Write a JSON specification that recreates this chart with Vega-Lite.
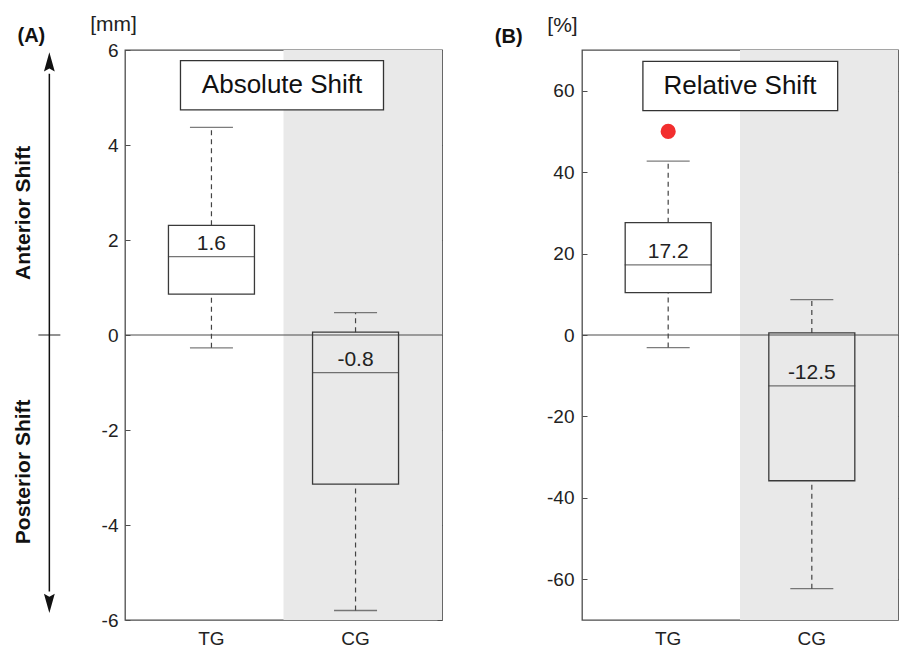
{
  "$schema": "https://vega.github.io/schema/vega-lite/v6.json",
  "autosize": {"type": "none"},
  "padding": {"left": 125, "top": 50, "right": 774, "bottom": 28},
  "bounds": "flush",
  "spacing": 140,
  "background": "white",
  "data": {"values": [{"ref": 1}]},
  "config": {
    "view": {"stroke": "#4d4d4d", "strokeWidth": 1.3},
    "font": "Liberation Sans",
    "axis": {"labelFont": "Liberation Sans", "labelFontSize": 19, "labelColor": "#222", "grid": false, "domain": false, "tickColor": "#4d4d4d", "title": null}
  },
  "datasets": {
    "abs": [
      {"group": "TG", "pos": 1, "lo": -0.27, "q1": 0.86, "med": 1.65, "q3": 2.31, "hi": 4.37, "label": "1.6"},
      {"group": "CG", "pos": 2, "lo": -5.8, "q1": -3.14, "med": -0.79, "q3": 0.06, "hi": 0.47, "label": "-0.8"}
    ],
    "rel": [
      {"group": "TG", "pos": 1, "lo": -3.1, "q1": 10.4, "med": 17.2, "q3": 27.6, "hi": 42.7, "label": "17.2"},
      {"group": "CG", "pos": 2, "lo": -62.3, "q1": -35.8, "med": -12.5, "q3": 0.5, "hi": 8.7, "label": "-12.5"}
    ],
    "relOut": [
      {"group": "TG", "pos": 1, "value": 50}
    ]
  },
  "hconcat": [
    {
      "width": 317,
      "height": 570,
      "resolve": {"axis": {"y": "independent"}},
      "layer": [
        {
          "mark": {"type": "rect", "fill": "#e9e9e9"},
          "encoding": {
            "x": {"datum": 1.5, "type": "quantitative", "scale": {"domain": [0.4, 2.6], "nice": false, "zero": false, "padding": 0}, "axis": null},
            "x2": {"datum": 2.6},
            "y": {"datum": -6, "type": "quantitative", "scale": {"domain": [-6, 6], "nice": false, "zero": false, "padding": 0},
              "axis": {"orient": "left", "values": [-6, -4, -2, 0, 2, 4, 6], "tickSize": -5, "labelPadding": 12, "labelExpr": "replace(datum.label, '−', '-')"}},
            "y2": {"datum": 6}
          }
        },
        {
          "mark": {"type": "rule", "color": "#4d4d4d", "strokeWidth": 1.2},
          "encoding": {
            "y": {"datum": 0, "type": "quantitative", "axis": {"orient": "right", "values": [-6, -4, -2, 0, 2, 4, 6], "labels": false, "tickSize": -5}}
          }
        },
        {
          "data": {"name": "abs"},
          "layer": [
            {"mark": {"type": "rule", "color": "#444", "strokeDash": [5, 4], "strokeWidth": 1.2},
              "encoding": {"x": {"field": "pos", "type": "quantitative", "axis": null}, "y": {"field": "q3", "type": "quantitative", "axis": null}, "y2": {"field": "hi"}}},
            {"mark": {"type": "rule", "color": "#444", "strokeDash": [5, 4], "strokeWidth": 1.2},
              "encoding": {"x": {"field": "pos", "type": "quantitative", "axis": null}, "y": {"field": "lo", "type": "quantitative", "axis": null}, "y2": {"field": "q1"}}},
            {"mark": {"type": "tick", "orient": "horizontal", "size": 43, "thickness": 1.3, "color": "#444"},
              "encoding": {"x": {"field": "pos", "type": "quantitative", "axis": null}, "y": {"field": "hi", "type": "quantitative", "axis": null}}},
            {"mark": {"type": "tick", "orient": "horizontal", "size": 43, "thickness": 1.3, "color": "#444"},
              "encoding": {"x": {"field": "pos", "type": "quantitative", "axis": null}, "y": {"field": "lo", "type": "quantitative", "axis": null}}},
            {"mark": {"type": "bar", "size": 86, "fill": "transparent", "stroke": "#3a3a3a", "strokeWidth": 1.3},
              "encoding": {"x": {"field": "pos", "type": "quantitative", "axis": null}, "y": {"field": "q1", "type": "quantitative", "axis": null}, "y2": {"field": "q3"}}},
            {"mark": {"type": "tick", "orient": "horizontal", "size": 87, "thickness": 1.3, "color": "#3a3a3a"},
              "encoding": {"x": {"field": "pos", "type": "quantitative", "axis": null}, "y": {"field": "med", "type": "quantitative", "axis": null}}},
            {"mark": {"type": "text", "fontSize": 21, "color": "#222", "baseline": "middle", "align": "center", "dy": -12.5},
              "encoding": {"x": {"field": "pos", "type": "quantitative", "axis": null}, "y": {"field": "med", "type": "quantitative", "axis": null}, "text": {"field": "label"}}},
            {"mark": {"type": "text", "fontSize": 19, "color": "#222", "baseline": "top", "align": "center", "dy": 10},
              "encoding": {"x": {"field": "pos", "type": "quantitative", "axis": null}, "y": {"datum": -6, "type": "quantitative", "axis": null}, "text": {"field": "group"}}}
          ]
        },
        {
          "mark": {"type": "rect", "fill": "white", "stroke": "#333", "strokeWidth": 1.3},
          "encoding": {"x": {"datum": 0.785, "type": "quantitative", "axis": null}, "x2": {"datum": 2.194}, "y": {"datum": 5.775, "type": "quantitative", "axis": null}, "y2": {"datum": 4.74}}
        },
        {
          "mark": {"type": "text", "text": "Absolute Shift", "fontSize": 26, "color": "#111", "align": "center", "baseline": "middle"},
          "encoding": {"x": {"datum": 1.49, "type": "quantitative", "axis": null}, "y": {"datum": 5.26, "type": "quantitative", "axis": null}}
        },
        {
          "mark": {"type": "rule", "color": "#111", "strokeWidth": 1.5},
          "encoding": {"x": {"datum": -0.125, "type": "quantitative", "axis": null}, "y": {"datum": 5.5, "type": "quantitative", "axis": null}, "y2": {"datum": -5.4}}
        },
        {
          "mark": {"type": "point", "filled": true, "color": "#111", "opacity": 1, "size": 576, "shape": "M0,-1 L-0.45,0.6 L0,0.35 L0.45,0.6 Z"},
          "encoding": {"x": {"datum": -0.125, "type": "quantitative", "axis": null}, "y": {"datum": 5.7, "type": "quantitative", "axis": null}}
        },
        {
          "mark": {"type": "point", "filled": true, "color": "#111", "opacity": 1, "size": 576, "shape": "M0,1 L-0.45,-0.6 L0,-0.35 L0.45,-0.6 Z"},
          "encoding": {"x": {"datum": -0.125, "type": "quantitative", "axis": null}, "y": {"datum": -5.6, "type": "quantitative", "axis": null}}
        },
        {
          "mark": {"type": "tick", "orient": "horizontal", "size": 22, "thickness": 1.3, "color": "#111"},
          "encoding": {"x": {"datum": -0.125, "type": "quantitative", "axis": null}, "y": {"datum": 0, "type": "quantitative", "axis": null}}
        },
        {
          "mark": {"type": "text", "text": "Anterior Shift", "fontSize": 21, "fontWeight": "bold", "angle": 270, "color": "#111", "align": "center", "baseline": "middle"},
          "encoding": {"x": {"datum": -0.30, "type": "quantitative", "axis": null}, "y": {"datum": 2.57, "type": "quantitative", "axis": null}}
        },
        {
          "mark": {"type": "text", "text": "Posterior Shift", "fontSize": 21, "fontWeight": "bold", "angle": 270, "color": "#111", "align": "center", "baseline": "middle"},
          "encoding": {"x": {"datum": -0.30, "type": "quantitative", "axis": null}, "y": {"datum": -2.88, "type": "quantitative", "axis": null}}
        },
        {
          "mark": {"type": "text", "text": "(A)", "fontSize": 20, "fontWeight": "bold", "color": "#111", "align": "center", "baseline": "middle"},
          "encoding": {"x": {"datum": -0.25, "type": "quantitative", "axis": null}, "y": {"datum": 6.29, "type": "quantitative", "axis": null}}
        },
        {
          "mark": {"type": "text", "text": "[mm]", "fontSize": 21, "color": "#222", "align": "center", "baseline": "middle"},
          "encoding": {"x": {"datum": 0.32, "type": "quantitative", "axis": null}, "y": {"datum": 6.53, "type": "quantitative", "axis": null}}
        }
      ]
    },
    {
      "width": 316,
      "height": 570,
      "resolve": {"axis": {"y": "independent"}},
      "layer": [
        {
          "mark": {"type": "rect", "fill": "#e9e9e9"},
          "encoding": {
            "x": {"datum": 1.5, "type": "quantitative", "scale": {"domain": [0.4, 2.6], "nice": false, "zero": false, "padding": 0}, "axis": null},
            "x2": {"datum": 2.6},
            "y": {"datum": -70, "type": "quantitative", "scale": {"domain": [-70, 70], "nice": false, "zero": false, "padding": 0},
              "axis": {"orient": "left", "values": [-60, -40, -20, 0, 20, 40, 60], "tickSize": -5, "labelPadding": 13, "labelExpr": "replace(datum.label, '−', '-')"}},
            "y2": {"datum": 70}
          }
        },
        {
          "mark": {"type": "rule", "color": "#4d4d4d", "strokeWidth": 1.2},
          "encoding": {
            "y": {"datum": 0, "type": "quantitative", "axis": {"orient": "right", "values": [-60, -40, -20, 0, 20, 40, 60], "labels": false, "tickSize": -5}}
          }
        },
        {
          "data": {"name": "rel"},
          "layer": [
            {"mark": {"type": "rule", "color": "#444", "strokeDash": [5, 4], "strokeWidth": 1.2},
              "encoding": {"x": {"field": "pos", "type": "quantitative", "axis": null}, "y": {"field": "q3", "type": "quantitative", "axis": null}, "y2": {"field": "hi"}}},
            {"mark": {"type": "rule", "color": "#444", "strokeDash": [5, 4], "strokeWidth": 1.2},
              "encoding": {"x": {"field": "pos", "type": "quantitative", "axis": null}, "y": {"field": "lo", "type": "quantitative", "axis": null}, "y2": {"field": "q1"}}},
            {"mark": {"type": "tick", "orient": "horizontal", "size": 43, "thickness": 1.3, "color": "#444"},
              "encoding": {"x": {"field": "pos", "type": "quantitative", "axis": null}, "y": {"field": "hi", "type": "quantitative", "axis": null}}},
            {"mark": {"type": "tick", "orient": "horizontal", "size": 43, "thickness": 1.3, "color": "#444"},
              "encoding": {"x": {"field": "pos", "type": "quantitative", "axis": null}, "y": {"field": "lo", "type": "quantitative", "axis": null}}},
            {"mark": {"type": "bar", "size": 86, "fill": "transparent", "stroke": "#3a3a3a", "strokeWidth": 1.3},
              "encoding": {"x": {"field": "pos", "type": "quantitative", "axis": null}, "y": {"field": "q1", "type": "quantitative", "axis": null}, "y2": {"field": "q3"}}},
            {"mark": {"type": "tick", "orient": "horizontal", "size": 87, "thickness": 1.3, "color": "#3a3a3a"},
              "encoding": {"x": {"field": "pos", "type": "quantitative", "axis": null}, "y": {"field": "med", "type": "quantitative", "axis": null}}},
            {"mark": {"type": "text", "fontSize": 21, "color": "#222", "baseline": "middle", "align": "center", "dy": -12.5},
              "encoding": {"x": {"field": "pos", "type": "quantitative", "axis": null}, "y": {"field": "med", "type": "quantitative", "axis": null}, "text": {"field": "label"}}},
            {"mark": {"type": "text", "fontSize": 19, "color": "#222", "baseline": "top", "align": "center", "dy": 10},
              "encoding": {"x": {"field": "pos", "type": "quantitative", "axis": null}, "y": {"datum": -70, "type": "quantitative", "axis": null}, "text": {"field": "group"}}}
          ]
        },
        {
          "data": {"name": "relOut"},
          "mark": {"type": "point", "filled": true, "color": "#f22e2e", "opacity": 1, "size": 230},
          "encoding": {"x": {"field": "pos", "type": "quantitative", "axis": null}, "y": {"field": "value", "type": "quantitative", "axis": null}}
        },
        {
          "mark": {"type": "rect", "fill": "white", "stroke": "#333", "strokeWidth": 1.3},
          "encoding": {"x": {"datum": 0.824, "type": "quantitative", "axis": null}, "x2": {"datum": 2.18}, "y": {"datum": 67.2, "type": "quantitative", "axis": null}, "y2": {"datum": 55.1}}
        },
        {
          "mark": {"type": "text", "text": "Relative Shift", "fontSize": 26, "color": "#111", "align": "center", "baseline": "middle"},
          "encoding": {"x": {"datum": 1.5, "type": "quantitative", "axis": null}, "y": {"datum": 61.1, "type": "quantitative", "axis": null}}
        },
        {
          "mark": {"type": "text", "text": "(B)", "fontSize": 20, "fontWeight": "bold", "color": "#111", "align": "center", "baseline": "middle"},
          "encoding": {"x": {"datum": -0.11, "type": "quantitative", "axis": null}, "y": {"datum": 73.3, "type": "quantitative", "axis": null}}
        },
        {
          "mark": {"type": "text", "text": "[%]", "fontSize": 21, "color": "#222", "align": "center", "baseline": "middle"},
          "encoding": {"x": {"datum": 0.264, "type": "quantitative", "axis": null}, "y": {"datum": 76, "type": "quantitative", "axis": null}}
        }
      ]
    }
  ]
}
